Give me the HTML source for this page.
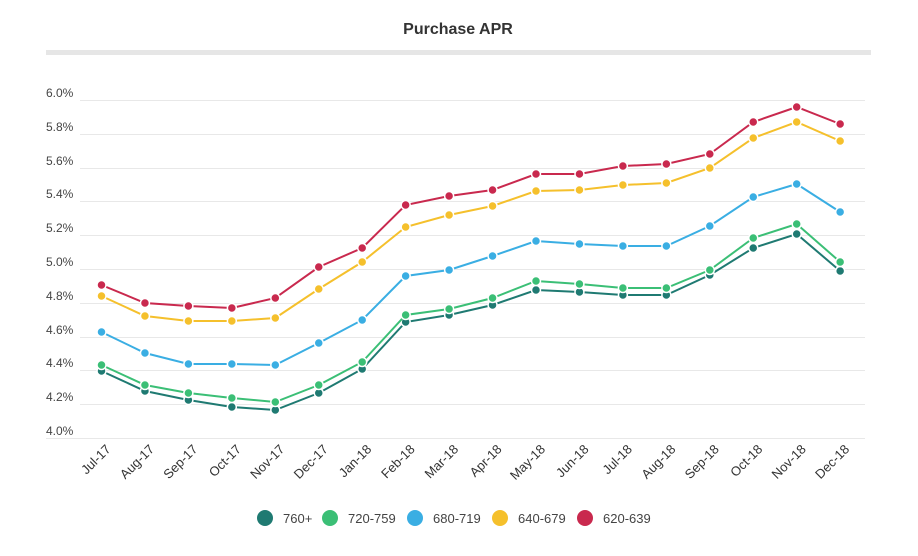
<!DOCTYPE html>
<html><head><style>body{margin:0;background:#fff}svg{display:block;font-family:"Liberation Sans",sans-serif}</style></head><body>
<svg width="918" height="556" viewBox="0 0 918 556">
<text x="458" y="34" text-anchor="middle" font-size="16" font-weight="bold" fill="#333">Purchase APR</text>
<rect x="46" y="50" width="825" height="5" fill="#e6e6e6"/>
<g stroke="#e8e8e8" stroke-width="1">
<line x1="80" x2="865" y1="100.5" y2="100.5"/><line x1="80" x2="865" y1="134.5" y2="134.5"/><line x1="80" x2="865" y1="168.5" y2="168.5"/><line x1="80" x2="865" y1="201.5" y2="201.5"/><line x1="80" x2="865" y1="235.5" y2="235.5"/><line x1="80" x2="865" y1="269.5" y2="269.5"/><line x1="80" x2="865" y1="303.5" y2="303.5"/><line x1="80" x2="865" y1="337.5" y2="337.5"/><line x1="80" x2="865" y1="370.5" y2="370.5"/><line x1="80" x2="865" y1="404.5" y2="404.5"/><line x1="46" x2="865" y1="438.5" y2="438.5"/>
</g>
<g font-size="12" fill="#444">
<text x="46" y="97">6.0%</text><text x="46" y="131">5.8%</text><text x="46" y="165">5.6%</text><text x="46" y="198">5.4%</text><text x="46" y="232">5.2%</text><text x="46" y="266">5.0%</text><text x="46" y="300">4.8%</text><text x="46" y="334">4.6%</text><text x="46" y="367">4.4%</text><text x="46" y="401">4.2%</text><text x="46" y="435">4.0%</text>
</g>
<g id="xl" font-size="13" fill="#333" text-anchor="end"></g>
<g id="series"></g>
<g font-size="13" fill="#444">
<circle cx="265" cy="518" r="8" fill="#1f7a72"/><text x="283" y="523">760+</text>
<circle cx="330" cy="518" r="8" fill="#3bbf76"/><text x="348" y="523">720-759</text>
<circle cx="415" cy="518" r="8" fill="#3aaee3"/><text x="433" y="523">680-719</text>
<circle cx="500" cy="518" r="8" fill="#f5c02c"/><text x="518" y="523">640-679</text>
<circle cx="585" cy="518" r="8" fill="#c9294e"/><text x="603" y="523">620-639</text>
</g>
</svg>
<script>
var ns="http://www.w3.org/2000/svg";
var labels=["Jul-17","Aug-17","Sep-17","Oct-17","Nov-17","Dec-17","Jan-18","Feb-18","Mar-18","Apr-18","May-18","Jun-18","Jul-18","Aug-18","Sep-18","Oct-18","Nov-18","Dec-18"];
function X(i){return 101.5+i*43.45;}
var xl=document.getElementById("xl");
labels.forEach(function(l,i){var t=document.createElementNS(ns,"text");t.setAttribute("transform","translate("+(X(i)+10)+",450) rotate(-45)");t.textContent=l;xl.appendChild(t);});
var S=[
["#1f7a72",[371,391,400,407,410,393,369,322,315,305,290,292,295,295,275,248,234,271]],
["#3bbf76",[365,385,393,398,402,385,362,315,309,298,281,284,288,288,270,238,224,262]],
["#3aaee3",[332,353,364,364,365,343,320,276,270,256,241,244,246,246,226,197,184,212]],
["#f5c02c",[296,316,321,321,318,289,262,227,215,206,191,190,185,183,168,138,122,141]],
["#c9294e",[285,303,306,308,298,267,248,205,196,190,174,174,166,164,154,122,107,124]]];
var g=document.getElementById("series");
S.forEach(function(s){var p=document.createElementNS(ns,"polyline");p.setAttribute("points",s[1].map(function(y,i){return X(i)+","+y;}).join(" "));p.setAttribute("fill","none");p.setAttribute("stroke",s[0]);p.setAttribute("stroke-width","2");g.appendChild(p);
s[1].forEach(function(y,i){var c=document.createElementNS(ns,"circle");c.setAttribute("cx",X(i));c.setAttribute("cy",y);c.setAttribute("r","4.5");c.setAttribute("fill",s[0]);c.setAttribute("stroke","#fff");c.setAttribute("stroke-width","1.5");g.appendChild(c);});});
</script>
</body></html>
